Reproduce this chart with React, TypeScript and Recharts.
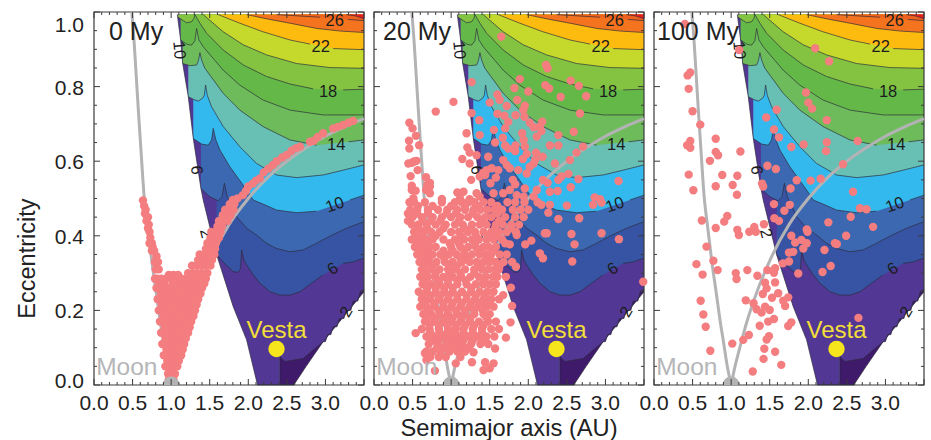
import React from "react";
import { ComposedChart, Area, Line, Scatter, XAxis, YAxis, ReferenceArea, Label } from "recharts";

type Pt = number[];

// ---------- contours: [semimajor axis, eccentricity] ----------
const darkPatch: Pt[] = [[2.41,0],[2.59,0],[2.75,.05],[2.97,.116],[3.5,.25]];
const boundary: Pt[] = [[1.08,.993],[1.123,.925],[1.15,.862],[1.222,.773],[1.287,.661],[1.386,.527],[1.416,.496],[1.59,.349],[1.805,.21],[1.978,.121],[2.12,0],[2.41,0],[2.41,.076],[2.474,.063],[2.71,.071],[2.97,.116],[3.0,.116],[3.03,.135],[3.07,.135],[3.1,.156],[3.15,.156],[3.18,.178],[3.24,.178],[3.27,.2],[3.33,.2],[3.36,.225],[3.42,.225],[3.45,.25],[3.5,.255]];
const c6: Pt[] = [[1.59,.349],[1.7,.324],[1.805,.304],[1.87,.302],[1.9,.313],[1.913,.362],[1.943,.335],[1.978,.322],[2.064,.295],[2.15,.273],[2.28,.25],[2.41,.241],[2.54,.241],[2.67,.25],[2.82,.273],[2.97,.295],[3.23,.326],[3.36,.33],[3.5,.34]];
const c8: Pt[] = [[1.386,.527],[1.5,.505],[1.61,.494],[1.66,.505],[1.69,.541],[1.727,.505],[1.85,.451],[1.98,.42],[2.107,.402],[2.237,.38],[2.366,.366],[2.54,.357],[2.71,.362],[2.885,.38],[3.057,.399],[3.27,.42],[3.5,.438]];
const c10: Pt[] = [[1.287,.661],[1.395,.646],[1.48,.643],[1.524,.657],[1.546,.688],[1.58,.657],[1.632,.63],[1.762,.585],[1.87,.554],[1.978,.523],[2.064,.496],[2.215,.483],[2.366,.469],[2.625,.462],[2.885,.466],[3.316,.496],[3.5,.509]];
const c12: Pt[] = [[1.222,.773],[1.287,.766],[1.352,.761],[1.408,.769],[1.43,.777],[1.447,.804],[1.468,.777],[1.524,.746],[1.675,.693],[1.89,.639],[2.107,.594],[2.366,.563],[2.625,.556],[2.97,.563],[3.23,.576],[3.5,.59]];
const c14: Pt[] = [[1.149,.862],[1.244,.856],[1.33,.858],[1.356,.871],[1.373,.891],[1.395,.871],[1.438,.849],[1.675,.782],[1.89,.737],[2.19,.693],[2.54,.657],[2.885,.643],[3.3,.652],[3.5,.657]];
const c16: Pt[] = [[1.123,.925],[1.2,.914],[1.265,.911],[1.308,.923],[1.33,.956],[1.36,.925],[1.416,.907],[1.675,.844],[1.89,.804],[2.19,.764],[2.54,.737],[2.97,.724],[3.5,.724]];
const c18: Pt[] = [[1.09,.986],[1.2,.971],[1.265,.974],[1.295,.983],[1.308,.993],[1.373,.97],[1.46,.943],[1.675,.898],[1.935,.858],[2.237,.827],[2.54,.807],[2.84,.794],[3.23,.791],[3.5,.793]];
const c20: Pt[] = [[1.416,.993],[1.675,.947],[1.935,.912],[2.237,.885],[2.625,.862],[3.057,.851],[3.5,.849]];
const c22: Pt[] = [[1.61,.993],[1.89,.97],[2.19,.947],[2.54,.925],[2.8,.914],[3.1,.902],[3.5,.899]];
const c24: Pt[] = [[1.978,.993],[2.28,.98],[2.54,.97],[2.885,.956],[3.187,.949],[3.5,.945]];
const c26: Pt[] = [[2.366,.993],[2.93,.986],[3.29,.98],[3.5,.977]];
const c28: Pt[] = [[3.27,.993],[3.4,.989],[3.5,.982]];

const bands: [Pt[], string][] = [
  [darkPatch, "#3f1a6b"], [boundary, "#523795"], [c6, "#3754a4"], [c8, "#3c68b1"], [c10, "#34b9ee"],
  [c12, "#68bfb3"], [c14, "#6dbb5a"], [c16, "#64b848"], [c18, "#83c341"], [c20, "#c5d92d"],
  [c22, "#fdbb10"], [c24, "#f4731f"], [c26, "#f0611f"], [c28, "#ed1c24"],
];
// where a contour line is interrupted by its printed value
const lineGaps = new Map<Pt[], number>([[c6, 3.1], [c10, 3.1], [c14, 3.1], [c18, 3.0], [c22, 2.95], [c26, 3.1]]);

const moonCurveInner: Pt[] = [[.49,1],[.52,.92],[.55,.82],[.58,.72],[.615,.61],[.65,.505],[.695,.425],[.75,.33],[.805,.25],[.855,.175],[.905,.11],[.95,.05],[1,0]];
const moonCurveOuter: Pt[] = [[1,0],[1.05,.05],[1.1,.09],[1.2,.167],[1.3,.23],[1.5,.333],[1.75,.43],[2,.5],[2.25,.556],[2.5,.6],[2.75,.636],[3,.667],[3.25,.692],[3.5,.714]];

// ---------- test particles ----------
const particles0: Pt[] = [
[1,.015],[.97,.015],[1.03,.015],[.96,.03],[1.01,.03],[1.05,.03],[.94,.05],[.99,.05],[1.03,.05],[1.08,.05],
[.95,.065],[1,.065],[1.05,.065],[1.1,.065],
[.93,.08],[.98,.08],[1.03,.08],[1.08,.08],[1.13,.08],[.94,.095],[.99,.095],[1.05,.095],[1.1,.095],[1.15,.095],
[.91,.11],[.96,.11],[1.01,.11],[1.07,.11],[1.12,.11],[1.17,.11],[.93,.125],[.98,.125],[1.03,.125],[1.09,.125],[1.14,.125],[1.19,.125],
[.9,.14],[.95,.14],[1,.14],[1.05,.14],[1.11,.14],[1.16,.14],[1.22,.14],[.92,.155],[.97,.155],[1.03,.155],[1.08,.155],[1.13,.155],[1.19,.155],[1.24,.155],
[.88,.17],[.94,.17],[.99,.17],[1.05,.17],[1.1,.17],[1.15,.17],[1.21,.17],[1.26,.17],[.9,.185],[.96,.185],[1.01,.185],[1.07,.185],[1.12,.185],[1.18,.185],[1.23,.185],[1.29,.185],
[.87,.2],[.92,.2],[.98,.2],[1.03,.2],[1.09,.2],[1.14,.2],[1.2,.2],[1.25,.2],[1.31,.2],[.88,.215],[.94,.215],[1,.215],[1.05,.215],[1.11,.215],[1.16,.215],[1.22,.215],[1.27,.215],[1.33,.215],
[.855,.23],[.91,.23],[.97,.23],[1.02,.23],[1.08,.23],[1.13,.23],[1.19,.23],[1.24,.23],[1.3,.23],[1.35,.23],[.87,.245],[.93,.245],[.99,.245],[1.05,.245],[1.1,.245],[1.17,.245],[1.22,.245],[1.28,.245],[1.33,.245],[1.38,.245],
[.84,.26],[.9,.26],[.96,.26],[1.03,.26],[1.08,.26],[1.15,.26],[1.2,.26],[1.26,.26],[1.31,.26],[1.36,.26],[1.4,.26],[.85,.272],[.91,.272],[1.02,.272],[1.1,.272],[1.18,.272],[1.23,.272],[1.28,.272],[1.33,.272],[1.38,.272],[1.43,.272],
[.82,.285],[.87,.285],[.93,.285],[1,.285],[1.06,.285],[1.13,.285],[1.19,.285],[1.24,.285],[1.29,.285],[1.34,.285],[1.39,.285],[1.45,.285],
[.97,.295],[1.03,.295],[1.09,.295],[1.22,.3],[1.28,.3],[1.34,.3],[1.4,.3],[1.47,.3],
[.925,.05],[.905,.08],[.885,.11],[.87,.14],[.855,.17],[.84,.2],[.825,.23],[.81,.26],[.79,.285],
[.8,.31],[.84,.31],[.83,.33],[.79,.33],[.81,.345],[.78,.36],[.75,.36],[.76,.37],[.75,.38],[.72,.38],[.73,.395],[.72,.41],[.7,.42],[.71,.43],[.68,.44],[.69,.45],[.66,.46],[.67,.47],[.65,.48],[.635,.495],[.7,.45],
[1.27,.32],[1.33,.32],[1.39,.32],[1.45,.32],[1.51,.32],[1.35,.335],[1.41,.335],[1.47,.335],[1.53,.335],[1.37,.35],[1.44,.35],[1.5,.35],[1.56,.35],[1.45,.365],[1.51,.365],[1.57,.365],[1.47,.38],[1.53,.38],[1.58,.38],[1.51,.395],[1.56,.395],[1.62,.395],[1.52,.41],[1.58,.41],[1.64,.41],[1.6,.425],[1.66,.425],[1.62,.44],[1.68,.44],[1.73,.44],[1.67,.455],[1.72,.455],[1.77,.455],[1.7,.47],[1.76,.47],[1.81,.47],[1.76,.485],[1.82,.485],
[1.8,.496],[1.86,.5],[1.93,.509],[1.97,.52],[2,.532],[2.06,.54],[2.1,.548],[2.15,.554],[2.2,.57],[2.26,.58],[2.32,.59],[2.37,.6],[2.44,.61],[2.5,.617],[2.56,.628],[2.62,.635],[2.67,.639],
[2.8,.652],[2.85,.655],[2.9,.665],[2.97,.675],[3.1,.688],[3.16,.692],[3.23,.697],[3.3,.703],[3.36,.708],
];

const particles20: Pt[] = [
[1.65,.934],[2.23,.858],[2.25,.849],[1.89,.82],[2.55,.816],[2.22,.804],[2.655,.802],[2.27,.795],[1.82,.796],[2,.787],[1.265,.812],[1.6,.779],[1.63,.764],[2.42,.772],[2.75,.774],[1.857,.764],[1.5,.757],[1.03,.759],[.8,.733],[1.72,.748],[1.955,.749],[1.935,.737],[2.67,.728],[1.265,.729],[1.6,.727],[1.69,.722],[1.835,.723],[1.95,.719],[1.365,.71],[.458,.703],[1.74,.706],[2.02,.703],[2.18,.706],[.5,.688],[1.7,.688],[1.555,.684],[2.07,.691],[2.15,.693],[2.17,.681],[2.59,.679],[1.2,.675],[1.37,.67],[1.67,.663],[1.92,.675],[2.11,.666],[2.39,.67],[.544,.668],[1.94,.657],[.454,.655],[1.57,.65],[.585,.643],[.458,.634],[1.21,.637],[1.7,.642],[1.835,.642],[1.955,.639],[2.28,.642],[2.39,.642],[2.71,.639],[1.74,.634],[1.24,.623],[1.33,.616],[1.48,.612],[1.83,.627],[2.1,.623],[1.98,.619],[2.625,.623],[1.145,.606],[.49,.596],[.445,.594],[.52,.599],[.55,.601],[1.24,.594],[1.675,.603],[1.93,.606],[2.09,.604],[2.185,.612],[2.07,.594],[2.54,.603],[2.345,.594],[1.72,.59],[1.76,.581],[1.87,.576],[2.02,.585],[.566,.576],[1.98,.567],[1.46,.576],[1.61,.576],[1.525,.581],[1.37,.559],[1.44,.563],[.475,.56],[.675,.557],[1.58,.556],[1.416,.569],[2.52,.566],[2.43,.559],[2.65,.552],[2.39,.55],[2.19,.55],[2.25,.542],[3.17,.547],[1.26,.55],[.725,.542],[1.8,.55],[1.51,.541],[.49,.534],[.69,.536],[1.83,.538],[.725,.532],[2.11,.523],[1.955,.527],[.49,.523],[.54,.521],[.675,.523],[2.55,.53],[2.28,.518],[2.38,.52],[1.08,.516],[1.16,.518],[1.33,.514],[1.55,.514],[1.675,.514],[1.76,.523],[1.85,.509],[1.94,.505],[2.07,.505],[.725,.514],[.51,.501],[.88,.499],[2.86,.503],[2.93,.498],[1.115,.5],[1.24,.498],[1.37,.505],
[2.17,.483],[2.28,.483],[2.5,.481],[2.84,.483],[2.95,.489],[2.26,.462],[2.39,.445],[2.66,.447],[2.215,.407],[2.24,.407],[2.56,.405],[2.95,.407],[3.175,.391],[2.6,.377],[2.15,.353],[2.19,.34],[2.57,.331],[2.04,.387],[1.96,.377],[1.85,.402],[1.76,.377],[3.49,.277],[1.84,.317],[1.71,.29],[1.775,.261],[1.675,.241],[1.79,.212],[1.77,.168],[1.71,.127],[1.29,.088],[1.27,.061],[1.06,.058],[1.44,.061],[1.55,.058],[1.5,.045],[1.42,.04],[1.57,.098],[.54,.139],[.79,.038],[.66,.085],[.68,.067],
[.46,.49],[.52,.49],[.66,.49],[.88,.49],[1.05,.49],[1.14,.49],[1.22,.49],[1.3,.49],[1.42,.49],[1.52,.49],[1.73,.49],[1.83,.49],[1.95,.49],[2.12,.49],
[.47,.47],[.56,.47],[.7,.47],[.83,.47],[.95,.47],[1.08,.47],[1.18,.47],[1.29,.47],[1.38,.47],[1.47,.47],[1.56,.47],[1.66,.47],[1.8,.47],[1.9,.47],[2,.47],
[.5,.45],[.62,.45],[.76,.45],[.88,.45],[1,.45],[1.12,.45],[1.22,.45],[1.34,.45],[1.44,.45],[1.52,.45],[1.7,.45],[1.83,.45],[1.94,.45],
[.49,.43],[.57,.43],[.68,.43],[.8,.43],[.93,.43],[1.05,.43],[1.15,.43],[1.27,.43],[1.37,.43],[1.46,.43],[1.58,.43],[1.67,.43],[1.78,.43],[1.88,.43],
[.52,.41],[.64,.41],[.74,.41],[.85,.41],[1,.41],[1.1,.41],[1.22,.41],[1.31,.41],[1.42,.41],[1.52,.41],[1.62,.41],[1.72,.41],[1.84,.41],
[.49,.39],[.58,.39],[.68,.39],[.76,.39],[.9,.39],[1.05,.39],[1.17,.39],[1.27,.39],[1.36,.39],[1.46,.39],[1.55,.39],[1.66,.39],
[.53,.37],[.62,.37],[.72,.37],[.8,.37],[1,.37],[1.12,.37],[1.22,.37],[1.32,.37],[1.42,.37],[1.49,.37],[1.58,.37],
[.56,.35],[.66,.35],[.76,.35],[.86,.35],[.97,.35],[1.07,.35],[1.17,.35],[1.27,.35],[1.37,.35],[1.45,.35],[1.52,.35],[1.63,.35],[1.72,.35],
[.59,.33],[.7,.33],[.81,.33],[.92,.33],[1.02,.33],[1.14,.33],[1.24,.33],[1.33,.33],[1.42,.33],[1.5,.33],[1.58,.33],[1.68,.33],[1.79,.33],
[.62,.31],[.74,.31],[.85,.31],[.96,.31],[1.06,.31],[1.18,.31],[1.3,.31],[1.4,.31],[1.48,.31],[1.56,.31],[1.62,.31],
[.6,.29],[.7,.29],[.79,.29],[.9,.29],[1.02,.29],[1.13,.29],[1.25,.29],[1.36,.29],[1.45,.29],[1.54,.29],[1.6,.29],
[.63,.27],[.74,.27],[.85,.27],[.96,.27],[1.08,.27],[1.2,.27],[1.32,.27],[1.42,.27],[1.5,.27],[1.58,.27],
[.58,.25],[.68,.25],[.8,.25],[.91,.25],[1.02,.25],[1.14,.25],[1.26,.25],[1.37,.25],[1.47,.25],[1.55,.25],
[.62,.23],[.72,.23],[.84,.23],[.96,.23],[1.08,.23],[1.2,.23],[1.31,.23],[1.42,.23],[1.52,.23],[1.62,.23],
[.6,.21],[.68,.21],[.78,.21],[.9,.21],[1,.21],[1.12,.21],[1.24,.21],[1.35,.21],[1.46,.21],[1.55,.21],
[.64,.19],[.74,.19],[.85,.19],[.96,.19],[1.08,.19],[1.18,.19],[1.3,.19],[1.42,.19],[1.5,.19],
[.66,.17],[.78,.17],[.9,.17],[1,.17],[1.12,.17],[1.24,.17],[1.36,.17],[1.48,.17],[1.58,.17],
[.62,.15],[.72,.15],[.84,.15],[.96,.15],[1.06,.15],[1.16,.15],[1.28,.15],[1.4,.15],[1.52,.15],[1.62,.15],
[.68,.13],[.78,.13],[.9,.13],[1,.13],[1.1,.13],[1.22,.13],[1.34,.13],[1.46,.13],[1.56,.13],
[.71,.11],[.82,.11],[.94,.11],[1.04,.11],[1.14,.11],[1.26,.11],[1.38,.11],[1.48,.11],
[.68,.09],[.76,.09],[.86,.09],[.98,.09],[1.08,.09],[1.18,.09],
[.73,.075],[.84,.075],[.93,.075],[1.12,.075],
// staggered fill of the dense swarm
[.57,.48],[.76,.48],[1,.48],[1.18,.48],[1.36,.48],[1.6,.48],[.44,.46],[.56,.46],[.7,.46],[.94,.46],[1.06,.46],[1.28,.46],[1.6,.46],[.44,.44],[.63,.44],[.74,.44],[.86,.44],[1.1,.44],[1.4,.44],[1.62,.44],
[.58,.42],[.69,.42],[.9,.42],[1.17,.42],[1.26,.42],[1.57,.42],[1.78,.42],[.55,.4],[.63,.4],[.8,.4],[1.13,.4],[1.32,.4],[1.5,.4],[1.6,.4],[.56,.38],[.67,.38],[.98,.38],[1.1,.38],[1.31,.38],[1.7,.38],
[.6,.36],[.7,.36],[.9,.36],[1.02,.36],[1.17,.36],[1.36,.36],[1.55,.36],[.62,.34],[.71,.34],[.91,.34],[1.12,.34],[1.22,.34],[1.5,.34],[.65,.32],[.76,.32],[.97,.32],[1.08,.32],[1.36,.32],[1.63,.32],
[.67,.3],[.8,.3],[.98,.3],[1.12,.3],[1.3,.3],[1.58,.3],[.66,.28],[.84,.28],[.96,.28],[1.08,.28],[1.19,.28],[1.42,.28],[.69,.26],[.8,.26],[.91,.26],[1.02,.26],[1.26,.26],[.63,.24],[.74,.24],[.86,.24],[.97,.24],[1.08,.24],[1.2,.24],[1.32,.24],[1.44,.24],
[.66,.22],[.78,.22],[.9,.22],[1.02,.22],[1.14,.22],[1.26,.22],[1.38,.22],[1.48,.22],[.7,.2],[.84,.2],[.95,.2],[1.06,.2],[1.18,.2],[1.3,.2],[1.41,.2],[.69,.18],[.8,.18],[.92,.18],[1.02,.18],[1.14,.18],[1.25,.18],[1.46,.18],
[.72,.16],[.84,.16],[.95,.16],[1.06,.16],[1.18,.16],[1.3,.16],[1.42,.16],[.73,.14],[.85,.14],[.95,.14],[1.05,.14],[1.16,.14],[1.28,.14],[1.4,.14],[.74,.12],[.84,.12],[.96,.12],[1.06,.12],[1.16,.12],[1.28,.12],[1.4,.12],[.82,.1],[.9,.1],[1.02,.1],[1.12,.1],[1.22,.1],
];

const particles100: Pt[] = [
[.4,.968],[1.105,.898],[2.09,.903],[2.27,.868],[.47,.838],[.436,.83],[.45,.794],[1.97,.784],[2,.757],[2.05,.741],[.5,.734],[1.59,.738],[1.455,.717],[2.24,.71],[.6,.698],[1.555,.685],[1.62,.664],[.8,.66],[.47,.654],[.43,.643],[.47,.636],[1.78,.638],[1.94,.645],[2.24,.651],[2.64,.654],[2.23,.627],[.8,.625],[.83,.616],[.725,.601],[1.12,.626],[2.45,.592],[1.47,.588],[1.58,.579],[.45,.564],[.885,.563],[1.08,.561],[1.85,.549],[2.03,.548],[2.16,.553],[1.4,.54],[1.415,.532],[.8,.533],[1.02,.536],[1.77,.527],[.51,.522],[2.58,.518],[1.075,.51],
[1.555,.485],[1.76,.483],[1.69,.467],[.95,.453],[.91,.438],[.62,.441],[1.56,.447],[1.62,.44],[2.26,.436],[2.55,.451],[2.67,.474],[2.755,.471],[2.84,.424],[.8,.421],[1.08,.416],[1.1,.402],[1.235,.411],[1.3,.424],[1.32,.411],[1.425,.431],[1.98,.417],[1.99,.411],[1.78,.4],[2.49,.4],[1.83,.382],[1.91,.389],[1.98,.38],[2.345,.38],[2.37,.378],[1.935,.366],[1.805,.357],[1.75,.355],[2.21,.362],[.68,.371],[.77,.333],[.55,.324],[1.67,.326],[1.75,.331],[.825,.308],[.63,.296],[1.06,.3],[1.07,.284],[1.21,.308],[1.47,.308],[1.57,.313],[1.555,.301],[1.87,.299],[2.185,.303],[2.29,.319],[1.34,.293],[1.44,.274],[1.57,.275],[1.46,.259],[1.41,.244],[1.61,.246],[1.53,.234],[1.74,.235],[1.675,.226],[1.19,.227],[.605,.226],[1.29,.219],[1.7,.212],[1.44,.21],[1.5,.201],[1.33,.203],[1.395,.194],[.64,.189],[1.48,.17],[1.555,.177],[2.65,.18],[.67,.156],[1.37,.159],[1.74,.158],[1.78,.168],[1.23,.134],[1.157,.121],[1.015,.111],[1.49,.131],[1.46,.122],[.73,.092],[1.43,.097],[1.57,.089],[1.42,.07],[1.65,.054],[1.28,.036],
];

const panelTitles = ["0 My", "20 My", "100 My"];
const panelParticles = [particles0, particles20, particles100];
const xTicks = [0,.1,.2,.3,.4,.5,.6,.7,.8,.9,1,1.1,1.2,1.3,1.4,1.5,1.6,1.7,1.8,1.9,2,2.1,2.2,2.3,2.4,2.5,2.6,2.7,2.8,2.9,3,3.1,3.2,3.3,3.4,3.5];
const yTicks = [0,.05,.1,.15,.2,.25,.3,.35,.4,.45,.5,.55,.6,.65,.7,.75,.8,.85,.9,.95,1];
const contourLabels: [string, number, number, number][] = [
  ["26",3.12,.979,0],["22",2.94,.909,0],["18",3.035,.789,0],["14",3.14,.646,0],["10",3.12,.485,-20],["6",3.09,.313,-35],["2",3.26,.197,-60],
  ["10",1.114,.898,85],["6",1.34,.576,85],["2",1.46,.407,75],
];
const moon = [[1, 0]];
const vesta = [[2.366, .0965]];

// ---------- layout ----------
const FONT = '"Liberation Sans", Arial, sans-serif';
const TOP = 12, BOTTOM = 385, PLOT_W = 270, HEIGHT = 440;
const INK = "#3a3a3a";
const rows = (p: Pt[]) => p.map(([a, e]) => ({ a, e }));
const near = (v: number, step: number) => Math.abs(v / step - Math.round(v / step)) < 1e-6;

function lineRows(p: Pt[]) {
  const out: { a: number; e: number | null }[] = rows(p);
  const gap = lineGaps.get(p);
  if (gap === undefined) return out;
  const at = out.findIndex((r) => r.a > gap);
  out.splice(at, 0, { a: gap, e: null });
  return out;
}

function XTick(props: any) {
  const { x, payload } = props;
  const v = payload.value;
  const major = near(v, 0.5);
  const len = major ? 6 : 3;
  return (
    <g>
      <line x1={x} x2={x} y1={BOTTOM} y2={BOTTOM - len} stroke={INK} strokeWidth={1} />
      <line x1={x} x2={x} y1={TOP} y2={TOP + len} stroke={INK} strokeWidth={1} />
      {major && v < 3.2 && (
        <text x={x} y={BOTTOM + 25} textAnchor="middle" fontFamily={FONT} fontSize={21} fill="#222">{v.toFixed(1)}</text>
      )}
    </g>
  );
}

function makeYTick(left: number, showText: boolean) {
  return function YTick(props: any) {
    const { y, payload } = props;
    const v = payload.value;
    const major = near(v, 0.2);
    const len = major ? 6 : 3;
    const shift = v === 1 ? 12 : v === 0 ? -5 : 0;
    return (
      <g>
        <line x1={left} x2={left + len} y1={y} y2={y} stroke={INK} strokeWidth={1} />
        <line x1={left + PLOT_W} x2={left + PLOT_W - len} y1={y} y2={y} stroke={INK} strokeWidth={1} />
        {showText && major && (
          <text x={left - 10} y={y + shift + 8} textAnchor="end" fontFamily={FONT} fontSize={21} fill="#222">{v.toFixed(1)}</text>
        )}
      </g>
    );
  };
}

const Dot = (props: any) => <circle cx={props.cx} cy={props.cy} r={4.2} fill="#f47d80" />;

const MoonMark = (props: any) => (
  <g>
    <path d={`M ${props.cx - 8.5} ${props.cy} A 8.5 8.5 0 0 1 ${props.cx + 8.5} ${props.cy} Z`} fill="#b3b3b3" />
    <text x={props.cx - 75} y={props.cy - 10} fontFamily={FONT} fontSize={24.5} fill="#b5b5b8">Moon</text>
  </g>
);
const VestaMark = (props: any) => (
  <g>
    <circle cx={props.cx} cy={props.cy} r={8.2} fill="#f6e51c" />
    <text x={props.cx} y={props.cy - 11} textAnchor="middle" fontFamily={FONT} fontSize={24} fill="#f3de3a">Vesta</text>
  </g>
);

function Panel({ index }: { index: number }) {
  const left = index === 0 ? 94 : 40;
  const posX = index === 0 ? 0 : index === 1 ? 334 : 614;
  const YTick = makeYTick(left, index === 0);
  const labelData = contourLabels.map(([t, a, e, r]) => ({ t, a, e, r }));
  const titleX = [15, 9, 3][index];
  return (
    <div style={{ position: "absolute", left: posX, top: 0 }}>
      <ComposedChart width={left + PLOT_W + 5} height={HEIGHT} margin={{ top: TOP, bottom: HEIGHT - BOTTOM - 1, left: left - 1, right: 5 }}>
        <XAxis dataKey="a" type="number" domain={[0, 3.5]} ticks={xTicks} interval={0} tick={<XTick />} tickLine={false} axisLine={false} height={1}>
          {index === 1 && <Label value="Semimajor axis (AU)" position="bottom" offset={33} fontFamily={FONT} fontSize={23.7} fill="#222" />}
        </XAxis>
        <YAxis dataKey="e" type="number" domain={[0, 1]} ticks={yTicks} interval={0} tick={<YTick />} tickLine={false} axisLine={false} width={1}>
          {index === 0 && <Label value="Eccentricity" angle={-90} position="left" offset={66} fontFamily={FONT} fontSize={23.5} fill="#222" />}
        </YAxis>
        {bands.map(([pts, color], i) => (
          <Area key={i} data={rows(pts)} dataKey="e" baseValue={0.993} type="linear" fill={color} fillOpacity={1} stroke="none" dot={false} activeDot={false} isAnimationActive={false} />
        ))}
        {bands.map(([pts], i) => (
          <Line key={i} data={lineRows(pts)} dataKey="e" type="linear" connectNulls={false} stroke="#2b2b3a" strokeOpacity={0.85} strokeWidth={0.8} dot={false} activeDot={false} isAnimationActive={false} />
        ))}
        <Line data={rows(moonCurveInner)} dataKey="e" type="monotone" stroke="#b3b3b6" strokeWidth={3} dot={false} activeDot={false} isAnimationActive={false} />
        <Line data={rows(moonCurveOuter)} dataKey="e" type="monotone" stroke="#b3b3b6" strokeWidth={3} dot={false} activeDot={false} isAnimationActive={false} />
        <Scatter data={labelData} isAnimationActive={false} shape={(p: any) => (
          <text x={p.cx} y={p.cy} textAnchor="middle" dominantBaseline="central" transform={`rotate(${p.payload.r} ${p.cx} ${p.cy})`} fontFamily={FONT} fontSize={16.5} fill="#1c1c1c">{p.payload.t}</text>
        )} />
        <Scatter data={rows(panelParticles[index])} isAnimationActive={false} shape={<Dot />} />
        <Scatter data={rows(moon)} isAnimationActive={false} shape={<MoonMark />} />
        <Scatter data={rows(vesta)} isAnimationActive={false} shape={<VestaMark />} />
        <ReferenceArea x1={0} x2={3.5} y1={0} y2={1} fill="none" stroke={INK} strokeWidth={1.2} />
      </ComposedChart>
      <div style={{ position: "absolute", left: left + titleX, top: 17, font: `25px ${FONT}`, color: "#222", whiteSpace: "nowrap" }}>{panelTitles[index]}</div>
    </div>
  );
}

export default function App() {
  return (
    <div style={{ position: "absolute", left: 0, top: 0, width: 931, height: 440, background: "#fff", overflow: "hidden" }}>
      {[0, 1, 2].map((i) => <Panel key={i} index={i} />)}
    </div>
  );
}
